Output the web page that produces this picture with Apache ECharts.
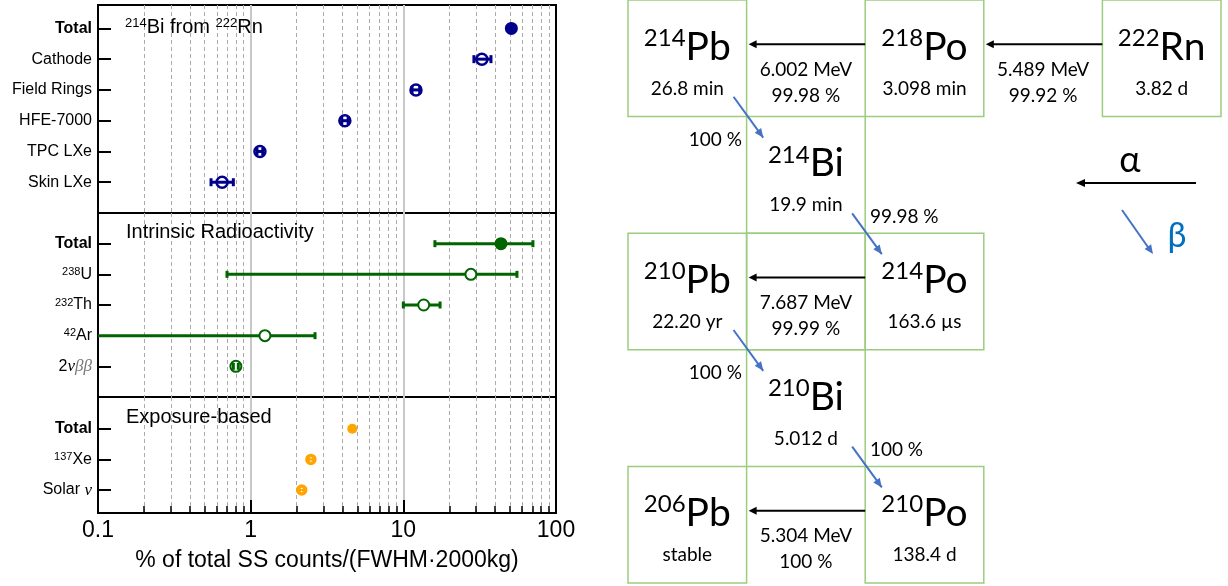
<!DOCTYPE html>
<html>
<head>
<meta charset="utf-8">
<script src="https://cdn.jsdelivr.net/npm/echarts@6/dist/echarts.min.js"></script>
<style>
  html, body { margin: 0; padding: 0; background: #fff; }
  #chart { width: 1228px; height: 586px; }
</style>
</head>
<body>
<div id="chart"></div>
<script>
// ---- left plot: fraction of SS counts, three groups ----
const rnLabels = ['{b|Total}', 'Cathode', 'Field Rings', 'HFE-7000', 'TPC LXe', 'Skin LXe'];
const rnVal = [51, 32.7, 12.1, 4.14, 1.15, 0.65];
const rnLow = [49.5, 29.0, 11.4, 3.95, 1.1, 0.55];
const rnHigh = [52.5, 37.5, 12.8, 4.35, 1.2, 0.77];
const rnFilled = [1, 0, 0, 0, 0, 0];

const irLabels = ['{b|Total}', '{sup|238}U', '{sup|232}Th', '{sup|42}Ar', '2{it|ν}{itg|ββ}'];
const irVal = [43.6, 27.7, 13.6, 1.24, 0.80];
const irLow = [16.1, 0.70, 10.0, 0.05, 0.77];
const irHigh = [70.6, 55.5, 17.4, 2.64, 0.83];
const irFilled = [1, 0, 0, 0, 0];

const exLabels = ['{b|Total}', '{sup|137}Xe', 'Solar {it|ν}'];
const exVal = [4.63, 2.48, 2.16];
const exLow = [4.6, 2.42, 2.1];
const exHigh = [4.68, 2.55, 2.22];
const exFilled = [1, 0, 0];

// ---- right: 222Rn decay chain ----
const nucMass = ['214', '218', '222', '214', '210', '214', '210', '206', '210'];
const nucSym = ['Pb', 'Po', 'Rn', 'Bi', 'Pb', 'Po', 'Bi', 'Pb', 'Po'];
const nucLife = ['26.8 min', '3.098 min', '3.82 d', '19.9 min', '22.20 yr', '163.6 µs', '5.012 d', 'stable', '138.4 d'];
const nucCol = [0, 2, 4, 1, 0, 2, 1, 0, 2];
const nucRow = [0, 0, 0, 1, 2, 2, 3, 4, 4];
const emptyCells = [[1, 2]];

const alphaFrom = [2, 1, 5, 8];
const alphaTo = [1, 0, 4, 7];
const alphaEnergy = ['5.489 MeV', '6.002 MeV', '7.687 MeV', '5.304 MeV'];
const alphaBranch = ['99.92 %', '99.98 %', '99.99 %', '100 %'];

const betaFrom = [0, 3, 4, 6];
const betaTo = [3, 5, 6, 8];
const betaBranch = ['100 %', '99.98 %', '100 %', '100 %'];
const betaSide = ['left', 'right', 'left', 'right'];

const FONT = '"Liberation Sans", Arial, sans-serif';
const DFONT = 'Lato, "Noto Sans", sans-serif';
const BLUE = '#00008b', GREEN = '#006400', ORANGE = '#ffa500';

const labelRich = {
  b: { fontWeight: 'bold', fontSize: 16, fontFamily: FONT, color: '#000' },
  sup: { fontSize: 11, fontFamily: FONT, color: '#000', verticalAlign: 'top', lineHeight: 12 },
  it: { fontStyle: 'italic', fontSize: 17, fontFamily: '"Liberation Serif", serif', color: '#000' },
  itg: { fontStyle: 'italic', fontSize: 17, fontFamily: '"Liberation Serif", serif', color: '#777' }
};

const grids = [
  { left: 98, top: 5, width: 458, height: 208 },
  { left: 98, top: 213, width: 458, height: 184 },
  { left: 98, top: 397, width: 458, height: 116 }
].map(g => Object.assign(g, { show: true, borderColor: '#000', borderWidth: 2, backgroundColor: 'transparent' }));
grids.push({ left: 628, top: 0, width: 593, height: 583, show: false });

function xAxisFor(idx, bottom) {
  return {
    type: 'log', logBase: 10, min: 0.1, max: 100, gridIndex: idx, position: 'bottom',
    axisLine: { show: bottom, onZero: false, lineStyle: { color: '#000', width: 2 } },
    axisTick: { show: bottom, inside: true, length: 13, lineStyle: { color: '#000', width: 2 } },
    minorTick: { show: bottom, splitNumber: 9, length: 7, lineStyle: { color: '#000', width: 1.5 } },
    axisLabel: { show: bottom, fontSize: 23, fontFamily: FONT, color: '#000', margin: 6,
      formatter: v => String(v) },
    splitLine: { show: true, showMinLine: false, showMaxLine: false, lineStyle: { color: '#c8c8c8', width: 2 } },
    minorSplitLine: { show: true, lineStyle: { color: '#aaa', width: 1, type: [4, 3] } },
    name: bottom ? '% of total SS counts/(FWHM·2000kg)' : '',
    nameLocation: 'middle', nameGap: 36,
    nameTextStyle: { fontSize: 23, fontFamily: FONT, color: '#000' }
  };
}

function yAxisFor(idx, labels, min, max) {
  const vals = labels.map((_, i) => i);
  return {
    type: 'value', gridIndex: idx, inverse: true, min: min, max: max,
    axisLine: { show: true, onZero: false, lineStyle: { color: '#000', width: 2 } },
    axisTick: { show: true, inside: true, length: 13, customValues: vals, lineStyle: { color: '#000', width: 2 } },
    axisLabel: { customValues: vals, fontSize: 16, fontFamily: FONT, color: '#000', margin: 6,
      formatter: v => labels[Math.round(v)], rich: labelRich },
    splitLine: { show: false }
  };
}

function errorSeries(idx, vals, lows, highs, filled, color, o) {
  return {
    type: 'custom', xAxisIndex: idx, yAxisIndex: idx, z: 5, silent: true,
    data: vals.map((v, i) => [v, i, lows[i], highs[i], filled[i]]),
    encode: { x: 0, y: 1 },
    renderItem(params, api) {
      const cs = params.coordSys;
      const c = api.coord([api.value(0), api.value(1)]);
      let x0 = api.coord([api.value(2), api.value(1)])[0];
      const x1 = api.coord([api.value(3), api.value(1)])[0];
      let cap0 = true;
      if (x0 < cs.x) { x0 = cs.x; cap0 = false; }
      const full = api.value(4) === 1;
      const kids = [
        { type: 'line', shape: { x1: x0, y1: c[1], x2: x1, y2: c[1] }, style: { stroke: color, lineWidth: o.bar } },
        { type: 'circle', shape: { cx: c[0], cy: c[1], r: full ? o.rFull : o.r },
          style: full ? { fill: color } : { fill: o.openFill, stroke: color, lineWidth: o.ring } },
        { type: 'rect', shape: { x: x1 - o.capW / 2, y: c[1] - o.capH / 2, width: o.capW, height: o.capH }, style: { fill: color } }
      ];
      if (cap0) {
        kids.push({ type: 'rect', shape: { x: x0 - o.capW / 2, y: c[1] - o.capH / 2, width: o.capW, height: o.capH }, style: { fill: color } });
      }
      return { type: 'group', children: kids };
    }
  };
}

function arrowHead(tip, from, len, half) {
  const dx = tip[0] - from[0], dy = tip[1] - from[1];
  const d = Math.hypot(dx, dy) || 1;
  const ux = dx / d, uy = dy / d;
  const bx = tip[0] - ux * len, by = tip[1] - uy * len;
  return [[tip[0], tip[1]], [bx - uy * half, by + ux * half], [bx + uy * half, by - ux * half]];
}

const diagram = { xAxisIndex: 3, yAxisIndex: 3, type: 'custom', silent: true, z: 3 };

const boxSeries = Object.assign({}, diagram, {
  data: nucCol.map((c, i) => [c, nucRow[i]]).concat(emptyCells),
  encode: { x: 0, y: 1 },
  renderItem(params, api) {
    const a = api.coord([api.value(0), api.value(1)]);
    const b = api.coord([api.value(0) + 1, api.value(1) + 1]);
    return {
      type: 'rect',
      shape: { x: Math.min(a[0], b[0]), y: Math.min(a[1], b[1]), width: Math.abs(b[0] - a[0]), height: Math.abs(b[1] - a[1]) },
      style: { fill: 'none', stroke: '#9ccc7e', lineWidth: 1.5 }
    };
  }
});

const nucSeries = Object.assign({}, diagram, {
  data: nucCol.map((c, i) => [c, nucRow[i], i]),
  encode: { x: 0, y: 1 },
  renderItem(params, api) {
    const col = api.value(0), row = api.value(1), i = api.value(2);
    const pn = api.coord([col + 0.5, row + 0.405]);
    const pl = api.coord([col + 0.5, row + 0.76]);
    return {
      type: 'group', children: [
        { type: 'text', style: {
          x: pn[0], y: pn[1], align: 'center', verticalAlign: 'middle',
          text: '{m|' + nucMass[i] + '}{s|' + nucSym[i] + '}',
          rich: {
            m: { fontSize: 24, fontFamily: DFONT, fill: '#000', verticalAlign: 'top', lineHeight: 26 },
            s: { fontSize: 39, fontFamily: DFONT, fill: '#000', lineHeight: 42 }
          }
        } },
        { type: 'text', style: {
          x: pl[0], y: pl[1], align: 'center', verticalAlign: 'middle',
          text: nucLife[i], fontSize: 19, fontFamily: DFONT, fill: '#000'
        } }
      ]
    };
  }
});

const alphaSeries = Object.assign({}, diagram, {
  data: alphaFrom.map((s, k) => [nucCol[s], nucRow[s], nucCol[alphaTo[k]], k]),
  encode: { x: 0, y: 1 },
  renderItem(params, api) {
    const src = api.value(0), row = api.value(1), dst = api.value(2), k = api.value(3);
    const p0 = api.coord([src, row + 0.38]);
    const p1 = api.coord([dst + 1, row + 0.38]);
    const mid = (src + dst + 1) / 2;
    const e = api.coord([mid, row + 0.6]);
    const br = api.coord([mid, row + 0.82]);
    const tip = [p1[0] + 2, p1[1]];
    return {
      type: 'group', children: [
        { type: 'line', shape: { x1: p0[0], y1: p0[1], x2: tip[0] + 6, y2: tip[1] }, style: { stroke: '#000', lineWidth: 2 } },
        { type: 'polygon', shape: { points: arrowHead(tip, p0, 8, 4) }, style: { fill: '#000' } },
        { type: 'text', style: { x: e[0], y: e[1], align: 'center', verticalAlign: 'middle', text: alphaEnergy[k], fontSize: 19, fontFamily: DFONT, fill: '#000' } },
        { type: 'text', style: { x: br[0], y: br[1], align: 'center', verticalAlign: 'middle', text: alphaBranch[k], fontSize: 19, fontFamily: DFONT, fill: '#000' } }
      ]
    };
  }
});

const betaSeries = Object.assign({}, diagram, {
  data: betaFrom.map((s, k) => [nucCol[s], nucRow[s], k]),
  encode: { x: 0, y: 1 },
  renderItem(params, api) {
    const col = api.value(0), row = api.value(1), k = api.value(2);
    const p0 = api.coord([col + 0.89, row + 0.83]);
    const p1 = api.coord([col + 1.14, row + 1.18]);
    const left = betaSide[k] === 'left';
    const t = left ? api.coord([col + 0.96, row + 1.2]) : api.coord([col + 1.04, row + 0.86]);
    return {
      type: 'group', children: [
        { type: 'line', shape: { x1: p0[0], y1: p0[1], x2: p1[0], y2: p1[1] }, style: { stroke: '#4472c4', lineWidth: 2 } },
        { type: 'polygon', shape: { points: arrowHead(p1, p0, 9, 4) }, style: { fill: '#4472c4' } },
        { type: 'text', style: { x: t[0], y: t[1], align: left ? 'right' : 'left', verticalAlign: 'middle', text: betaBranch[k], fontSize: 19, fontFamily: DFONT, fill: '#000' } }
      ]
    };
  }
});

const chart = echarts.init(document.getElementById('chart'), null, { renderer: 'canvas' });
chart.setOption({
  animation: false,
  backgroundColor: '#fff',
  title: [
    { text: '{sup|214}Bi from {sup|222}Rn', left: 125, top: 17, padding: 0,
      textStyle: { fontSize: 20, fontWeight: 'normal', fontFamily: FONT, color: '#000',
        rich: { sup: { fontSize: 13, fontFamily: FONT, color: '#000', verticalAlign: 'top', lineHeight: 14 } } } },
    { text: 'Intrinsic Radioactivity', left: 126, top: 222, padding: 0,
      textStyle: { fontSize: 20, fontWeight: 'normal', fontFamily: FONT, color: '#000' } },
    { text: 'Exposure-based', left: 126, top: 407, padding: 0,
      textStyle: { fontSize: 20, fontWeight: 'normal', fontFamily: FONT, color: '#000' } }
  ],
  grid: grids,
  xAxis: [
    xAxisFor(0, false), xAxisFor(1, false), xAxisFor(2, true),
    { type: 'value', gridIndex: 3, min: 0, max: 5, show: false }
  ],
  yAxis: [
    yAxisFor(0, rnLabels, -0.76, 6),
    yAxisFor(1, irLabels, -1, 5),
    yAxisFor(2, exLabels, -1.04, 2.75),
    { type: 'value', gridIndex: 3, min: 0, max: 5, inverse: true, show: false }
  ],
  series: [
    errorSeries(0, rnVal, rnLow, rnHigh, rnFilled, BLUE, { bar: 3, capW: 3, capH: 8, r: 5.5, rFull: 6.5, ring: 2.5, openFill: 'none' }),
    errorSeries(1, irVal, irLow, irHigh, irFilled, GREEN, { bar: 3, capW: 3, capH: 7, r: 5.5, rFull: 6.5, ring: 2, openFill: '#fff' }),
    errorSeries(2, exVal, exLow, exHigh, exFilled, ORANGE, { bar: 2, capW: 2, capH: 4, r: 4, rFull: 5, ring: 3.5, openFill: 'none' }),
    boxSeries, nucSeries, alphaSeries, betaSeries
  ],
  graphic: [
    { type: 'text', style: { x: 1130, y: 160, text: 'α', align: 'center', verticalAlign: 'middle', fontSize: 36, fontFamily: DFONT, fill: '#000' } },
    { type: 'line', shape: { x1: 1196, y1: 183, x2: 1082, y2: 183 }, style: { stroke: '#000', lineWidth: 2 } },
    { type: 'polygon', shape: { points: [[1076, 183], [1085, 179], [1085, 187]] }, style: { fill: '#000' } },
    { type: 'text', style: { x: 1177, y: 236, text: 'β', align: 'center', verticalAlign: 'middle', fontSize: 34, fontFamily: DFONT, fill: '#0070c0' } },
    { type: 'line', shape: { x1: 1122, y1: 210, x2: 1150, y2: 250 }, style: { stroke: '#4472c4', lineWidth: 2 } },
    { type: 'polygon', shape: { points: arrowHead([1153, 254], [1122, 210], 9, 4) }, style: { fill: '#4472c4' } }
  ]
});
</script>
</body>
</html>
